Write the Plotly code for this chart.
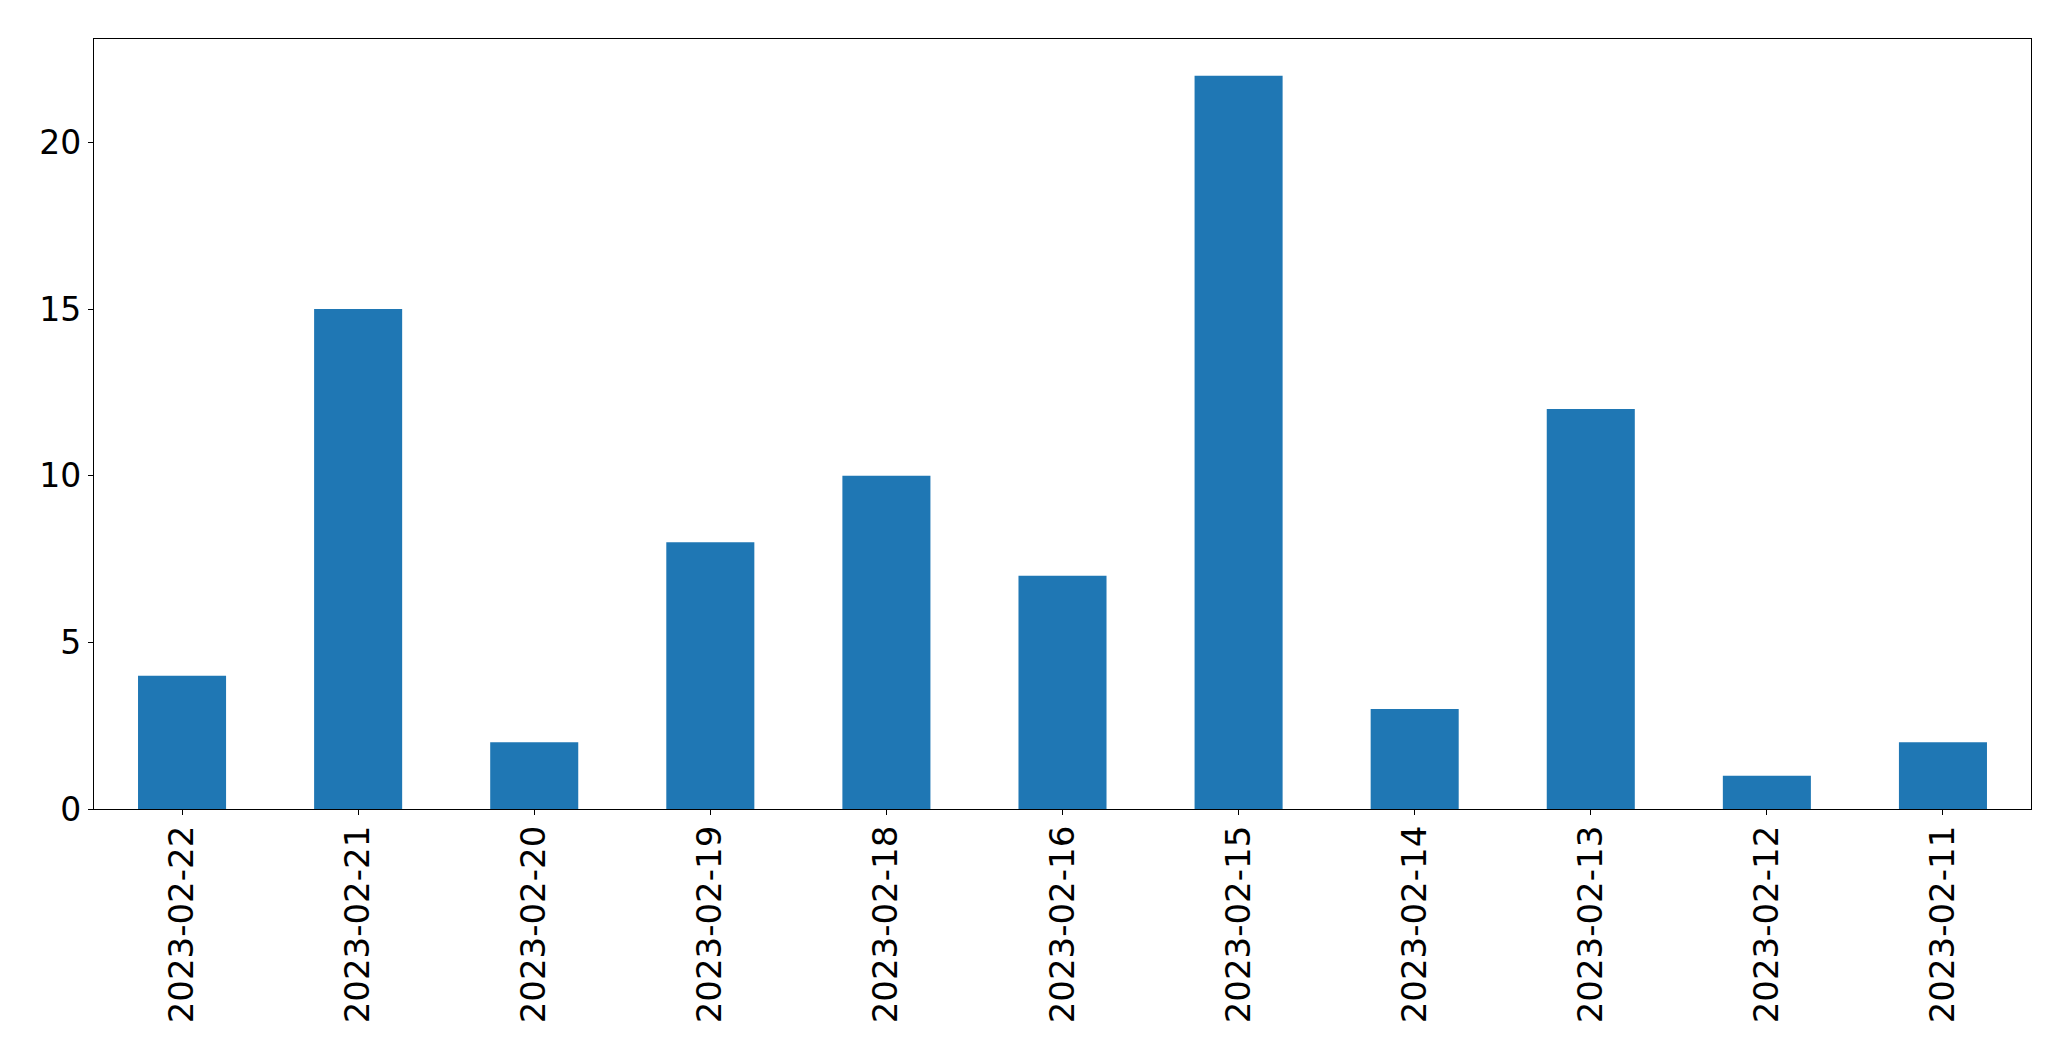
import plotly.graph_objects as go

dates = ["2023-02-22", "2023-02-21", "2023-02-20", "2023-02-19", "2023-02-18",
         "2023-02-16", "2023-02-15", "2023-02-14", "2023-02-13", "2023-02-12", "2023-02-11"]
counts = [4, 15, 2, 8, 10, 7, 22, 3, 12, 1, 2]
y_ticks = [0, 5, 10, 15, 20]

fig = go.Figure(go.Bar(x=dates, y=counts, marker_color="#1f77b4", marker_line_width=0))

axis_common = dict(showline=True, linecolor="black", linewidth=1.3, mirror=True,
                   ticks="outside", ticklen=5, tickwidth=1.3, tickcolor="black",
                   showgrid=False, zeroline=False)

fig.update_layout(
    width=2071, height=1061,
    margin=dict(l=86, r=48, t=31, b=260),
    plot_bgcolor="white", paper_bgcolor="white",
    bargap=0.5, showlegend=False,
    xaxis=dict(type="category", range=[-0.5, len(dates) - 0.5], tickangle=-90,
               ticklabelstandoff=-3,
               tickfont=dict(family="DejaVu Sans", size=34, color="black"), **axis_common),
    yaxis=dict(range=[0, 23.1], tickvals=y_ticks,
               tickfont=dict(family="DejaVu Sans", size=33, color="black"), **axis_common),
)

fig.write_html("out.html")
